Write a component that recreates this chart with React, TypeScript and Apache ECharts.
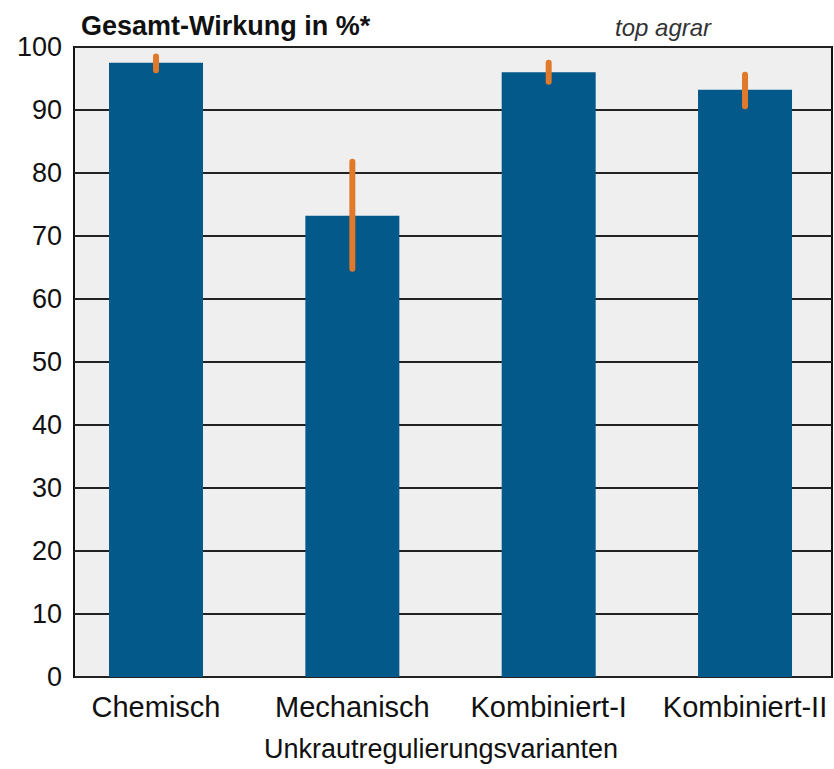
import React, { useEffect, useRef } from "react";
import * as echarts from "echarts";

const categories = ["Chemisch", "Mechanisch", "Kombiniert-I", "Kombiniert-II"];
const values = [97.5, 73.2, 96.0, 93.2];
const errLow = [96.3, 64.8, 94.5, 90.6];
const errHigh = [98.5, 81.8, 97.5, 95.6];

const titleText = "Gesamt-Wirkung in %*";
const sourceText = "top agrar";
const xAxisName = "Unkrautregulierungsvarianten";

const FONT = "Liberation Sans, Arial, Helvetica, sans-serif";

export default function App() {
  const ref = useRef<HTMLDivElement>(null);

  useEffect(() => {
    document.body.style.margin = "0";
    if (!ref.current) return;
    const chart = echarts.init(ref.current, null, { renderer: "svg" });

    const barData = values.map((v, i) => [i, v]);
    const errData = values.map((_, i) => [i, errLow[i], errHigh[i]]);

    chart.setOption({
      animation: false,
      backgroundColor: "#ffffff",
      textStyle: { fontFamily: FONT },
      title: [
        {
          text: titleText,
          left: 76,
          top: 7,
          textStyle: { fontFamily: FONT, fontSize: 27, fontWeight: "bold", color: "#111" },
        },
        {
          text: sourceText,
          left: 610,
          top: 10,
          textStyle: { fontFamily: FONT, fontSize: 24, fontStyle: "italic", fontWeight: "normal", color: "#333" },
        },
      ],
      grid: {
        left: 74,
        right: 2,
        top: 47,
        bottom: 92,
        show: true,
        backgroundColor: "#efefef",
        borderColor: "#111",
        borderWidth: 2,
      },
      xAxis: {
        type: "value",
        min: -0.4177,
        max: 3.443,
        splitLine: { show: false },
        axisLine: { show: false },
        axisTick: { show: false },
        axisLabel: {
          customValues: [0, 1, 2, 3],
          formatter: (v: number) => categories[Math.round(v)] ?? "",
          fontSize: 29,
          color: "#111",
          margin: 15,
          fontFamily: FONT,
        },
        name: xAxisName,
        nameLocation: "middle",
        nameGap: 58,
        nameTextStyle: { fontSize: 27, color: "#111", fontFamily: FONT, padding: [0, 24, 0, 0] },
      },
      yAxis: {
        type: "value",
        min: 0,
        max: 100,
        interval: 10,
        axisLine: { show: false },
        axisTick: { show: false },
        axisLabel: { fontSize: 27, color: "#111", margin: 12, fontFamily: FONT },
        splitLine: { show: true, lineStyle: { color: "#222", width: 2 } },
      },
      series: [
        {
          type: "bar",
          data: barData,
          barWidth: 94,
          itemStyle: { color: "#04598b" },
          z: 2,
        },
        {
          type: "custom",
          data: errData,
          encode: { x: 0, y: [1, 2] },
          z: 3,
          renderItem: (params: any, api: any) => {
            const x = api.value(0);
            const lo = api.coord([x, api.value(1)]);
            const hi = api.coord([x, api.value(2)]);
            return {
              type: "line",
              shape: { x1: lo[0], y1: lo[1], x2: hi[0], y2: hi[1] },
              style: { stroke: "#e07a2a", lineWidth: 6, lineCap: "round" },
            };
          },
        },
      ],
    });

    return () => chart.dispose();
  }, []);

  return <div ref={ref} style={{ width: 834, height: 769 }} />;
}
